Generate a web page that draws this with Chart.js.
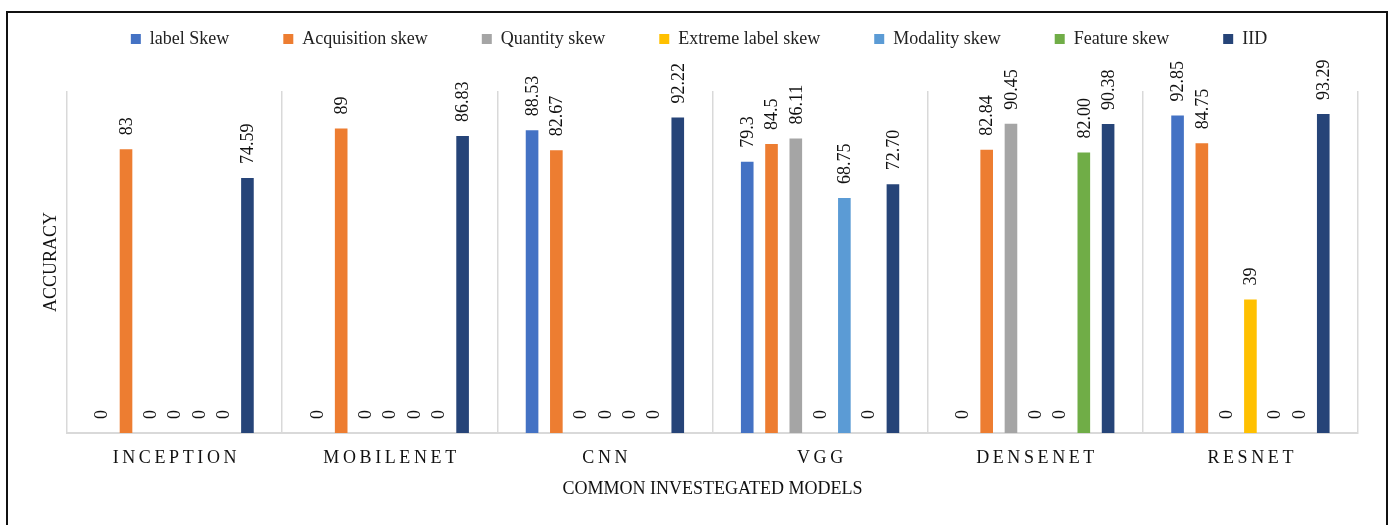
<!DOCTYPE html>
<html>
<head>
<meta charset="utf-8">
<script src="https://cdn.jsdelivr.net/npm/chart.js@4.4.1/dist/chart.umd.min.js"></script>
<style>
  html, body { margin: 0; padding: 0; background: #ffffff; }
  #frame { position: absolute; left: 0; top: 0; width: 1393px; height: 525px; }
  #box { position: absolute; left: 6px; top: 11px; width: 1382px; height: 540px; border: 2px solid #111; box-sizing: border-box; pointer-events: none; }
</style>
</head>
<body>
<div id="frame"><canvas id="chart" width="1393" height="525"></canvas></div>
<div id="box"></div>
<script>
// Models compared on the x axis
const categories = ['INCEPTION', 'MOBILENET', 'CNN', 'VGG', 'DENSENET', 'RESNET'];

// Accuracy per model for each data-distribution setting (as printed above the bars)
const labelSkew       = ['0', '0', '88.53', '79.3', '0', '92.85'];
const acquisitionSkew = ['83', '89', '82.67', '84.5', '82.84', '84.75'];
const quantitySkew    = ['0', '0', '0', '86.11', '90.45', '0'];
const extremeLabelSkew= ['0', '0', '0', '0', '0', '39'];
const modalitySkew    = ['0', '0', '0', '68.75', '0', '0'];
const featureSkew     = ['0', '0', '0', '0', '82.00', '0'];
const iid             = ['74.59', '86.83', '92.22', '72.70', '90.38', '93.29'];

const seriesNames = ['label Skew', 'Acquisition skew', 'Quantity skew', 'Extreme label skew', 'Modality skew', 'Feature skew', 'IID'];
const seriesTexts = [labelSkew, acquisitionSkew, quantitySkew, extremeLabelSkew, modalitySkew, featureSkew, iid];
const seriesColors = ['#4472C4', '#ED7D31', '#A5A5A5', '#FFC000', '#5B9BD5', '#70AD47', '#264478'];

const serif = '"Liberation Serif", "Times New Roman", serif';

// Spread capitals apart with thin spaces for the category labels
const spaced = s => s.split('').join('\u2009');

// Value labels, rotated to read bottom-to-top, sitting just above each bar
const barValueLabels = {
  id: 'barValueLabels',
  afterDatasetsDraw(chart) {
    const ctx = chart.ctx;
    ctx.save();
    ctx.font = '18px ' + serif;
    ctx.fillStyle = '#111111';
    ctx.textAlign = 'left';
    ctx.textBaseline = 'middle';
    chart.data.datasets.forEach((ds, di) => {
      const meta = chart.getDatasetMeta(di);
      meta.data.forEach((bar, i) => {
        ctx.save();
        ctx.translate(bar.x, bar.y - 14);
        ctx.rotate(-Math.PI / 2);
        ctx.fillText(ds.valueText[i], 0, 1);
        ctx.restore();
      });
    });
    ctx.restore();
  }
};

// Extra room below the legend before the plot starts
const legendGap = {
  id: 'legendGap',
  beforeInit(chart) {
    const fit = chart.legend.fit;
    chart.legend.fit = function () {
      fit.bind(chart.legend)();
      this.height += 33;
    };
  }
};

new Chart(document.getElementById('chart'), {
  type: 'bar',
  data: {
    labels: categories,
    datasets: seriesNames.map((name, k) => ({
      label: name,
      data: seriesTexts[k].map(Number),
      valueText: seriesTexts[k],
      backgroundColor: seriesColors[k],
      borderWidth: 0,
      categoryPercentage: 0.79,
      barPercentage: 0.52
    }))
  },
  options: {
    responsive: false,
    animation: false,
    layout: { padding: { left: 40, right: 35, top: -24, bottom: 25 } },
    plugins: {
      legend: {
        position: 'top',
        labels: {
          boxWidth: 10,
          boxHeight: 10,
          padding: 54,
          color: '#222222',
          font: { family: serif, size: 18 }
        }
      },
      tooltip: { enabled: false }
    },
    scales: {
      x: {
        grid: { display: true, offset: true, color: '#d9d9d9', lineWidth: 1.5, drawTicks: false },
        border: { display: true, color: '#d9d9d9', width: 2 },
        ticks: {
          padding: 14,
          color: '#111111',
          font: { family: serif, size: 18 },
          callback: (v, i) => spaced(categories[i])
        },
        title: {
          display: true,
          text: 'COMMON INVESTEGATED MODELS',
          color: '#111111',
          font: { family: serif, size: 18 },
          padding: { top: 0, bottom: 0 }
        },
        afterFit(scale) { scale.height = 67; }
      },
      y: {
        min: 0,
        max: 100,
        grid: { display: false },
        border: { display: false },
        ticks: { display: false },
        title: {
          display: true,
          text: 'ACCURACY',
          color: '#111111',
          font: { family: serif, size: 18 },
          padding: { top: 0, bottom: 0 }
        },
        afterFit(scale) { scale.width = 27; }
      }
    }
  },
  plugins: [barValueLabels, legendGap]
});
</script>
</body>
</html>
